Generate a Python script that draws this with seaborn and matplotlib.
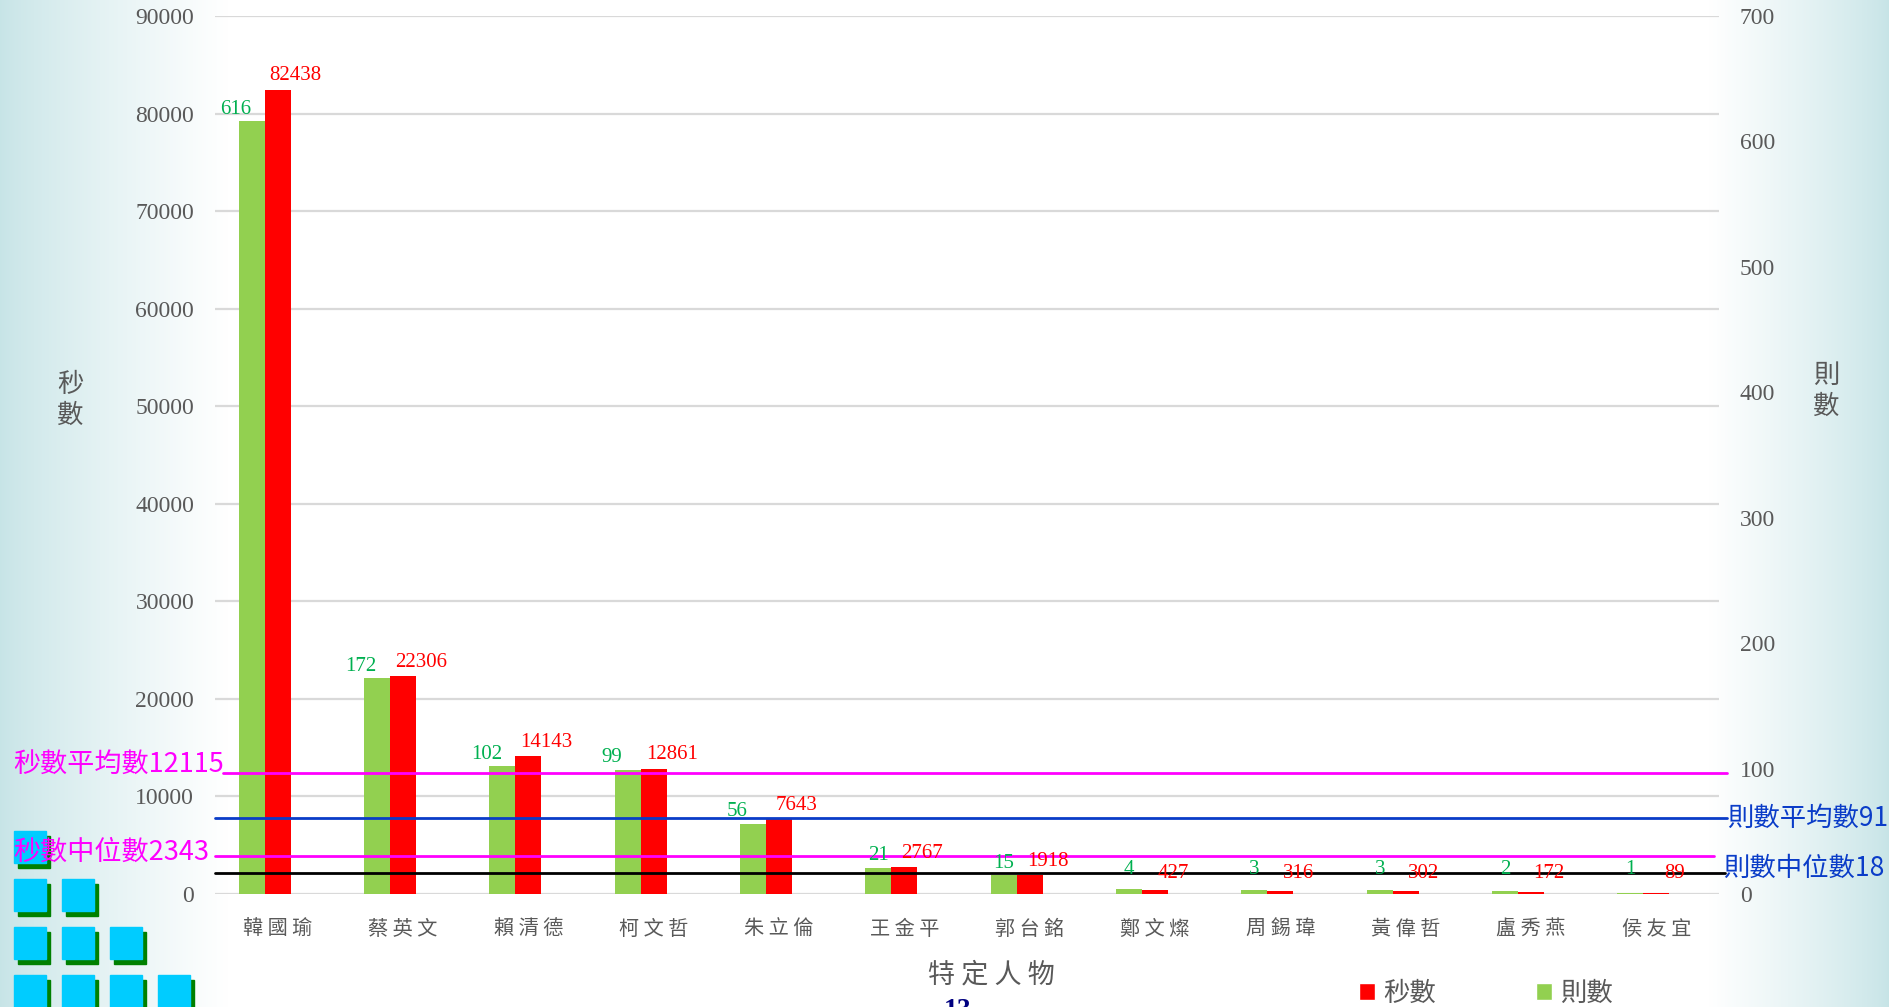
import numpy as np
import pandas as pd
import matplotlib
matplotlib.use('Agg')
import matplotlib.pyplot as plt
import matplotlib.transforms as mtransforms
from matplotlib.patches import Rectangle, Patch
import seaborn as sns

# ---- data ----
people = ['韓國瑜', '蔡英文', '賴清德', '柯文哲', '朱立倫', '王金平',
          '郭台銘', '鄭文燦', '周錫瑋', '黃偉哲', '盧秀燕', '侯友宜']
seconds = [82438, 22306, 14143, 12861, 7643, 2767, 1918, 427, 316, 302, 172, 89]
counts = [616, 172, 102, 99, 56, 21, 15, 4, 3, 3, 2, 1]
series = ['則數', '秒數', '其他']
sec_ticks = list(range(0, 90001, 10000))
cnt_ticks = list(range(0, 701, 100))

sec_mean, sec_median = 12115, 2343
cnt_mean, cnt_median = 91, 18
# levels where the hand-drawn reference lines sit (left axis units)
ref_levels = [12450, 7770, 3870, 2130]

sns.set_style('white')
plt.rcParams['font.family'] = ['Noto Sans CJK TC', 'DejaVu Sans']
plt.rcParams['axes.unicode_minus'] = False

W, H = 1889, 1007
fig = plt.figure(figsize=(W / 100, H / 100), dpi=100)

# background: teal at both sides fading to white
teal = np.array([0.78, 0.895, 0.905])
xs = np.linspace(0, 1, 1000)
w = np.clip(np.minimum(xs / 0.12, (1 - xs) / 0.095), 0, 1) ** 0.8
grad = teal[None, :] + (1 - teal[None, :]) * w[:, None]
bg = fig.add_axes([0, 0, 1, 1], zorder=-10)
bg.imshow(grad[None, :, :], aspect='auto', extent=[0, 1, 0, 1])
bg.set_axis_off()

x0, x1, y_top, y_zero = 215, 1719, 16, 894
ax = fig.add_axes([x0 / W, 1 - y_zero / H, (x1 - x0) / W, (y_zero - y_top) / H])
ax.set_facecolor('none')
ax2 = ax.twinx()

pal = {'則數': '#92D050', '秒數': '#FF0000', '其他': '#4472C4'}
df_sec = pd.DataFrame({'人物': people, '系列': '秒數', '值': seconds})
df_cnt = pd.DataFrame({'人物': people, '系列': '則數', '值': counts})

sns.barplot(data=df_sec, x='人物', y='值', hue='系列', hue_order=series,
            palette=pal, dodge=True, width=0.62, saturation=1,
            linewidth=0, legend=False, ax=ax)
sns.barplot(data=df_cnt, x='人物', y='值', hue='系列', hue_order=series,
            palette=pal, dodge=True, width=0.62, saturation=1,
            linewidth=0, legend=False, ax=ax2)

ax.set_ylim(0, 90000)
ax2.set_ylim(0, 700)
ax.set_xlim(-0.5, len(people) - 0.5)

for a in (ax, ax2):
    for s in a.spines.values():
        s.set_visible(False)
    a.set_xlabel('')
    a.set_ylabel('')

ax.yaxis.grid(True, color='#D9D9D9', lw=1.6)
ax.set_axisbelow(True)

ax.set_yticks(sec_ticks)
ax.set_yticklabels([str(t) for t in sec_ticks], family='Liberation Serif',
                   fontsize=17, color='#595959')
ax2.set_yticks(cnt_ticks)
ax2.set_yticklabels([str(t) for t in cnt_ticks], family='Liberation Serif',
                    fontsize=17, color='#595959')
ax.tick_params(axis='y', length=0, pad=15)
ax2.tick_params(axis='y', length=0, pad=15)

ax.set_xticks(range(len(people)))
ax.set_xticklabels([' '.join(p) for p in people], fontsize=14.5, color='#595959')
ax.tick_params(axis='x', length=0, pad=18)


def full_container(a):
    return [c for c in a.containers if len(c) == len(people)][0]


# ---- data labels ----
px_sec = (y_zero - y_top) / 90000
px_cnt = (y_zero - y_top) / 700
for bar, v in zip(full_container(ax), seconds):
    cx = bar.get_x() + bar.get_width() / 2
    top = bar.get_height() * px_sec
    dy = max(14, 21 - top)
    ax2.annotate(str(v), xy=(cx, bar.get_height()), xycoords=ax.transData,
                 xytext=(18, dy), textcoords='offset pixels', ha='center',
                 va='center', color='#FF0000', fontsize=15,
                 family='Liberation Serif', zorder=6)
for bar, v in zip(full_container(ax2), counts):
    cx = bar.get_x() + bar.get_width() / 2
    top = bar.get_height() * px_cnt
    dx = -16 if top > 30 else 0
    dy = max(12, 24 - top)
    ax2.annotate(str(v), xy=(cx, bar.get_height()), xycoords=ax2.transData,
                 xytext=(dx, dy), textcoords='offset pixels', ha='center',
                 va='center', color='#00B050', fontsize=15,
                 family='Liberation Serif', zorder=6)

# ---- reference lines ----
trans = mtransforms.blended_transform_factory(ax2.transAxes, ax.transData)
line_styles = [('#FF00FF', 0.005, 1.005), ('#0A3CC8', 0.0, 1.0055),
               ('#FF00FF', 0.0, 0.997), ('#000000', 0.0, 1.004)]
for lvl, (c, a0, a1) in zip(ref_levels, line_styles):
    ax2.plot([a0, a1], [lvl, lvl], transform=trans, color=c, lw=2,
             clip_on=False, zorder=5)


def ftext(px, py, s, **kw):
    return fig.text(px / W, 1 - py / H, s, **kw)


ftext(13, 764, f'秒數平均數{sec_mean}', color='#FF00FF', fontsize=19.5,
      ha='left', va='center', zorder=5)
ftext(13, 852, f'秒數中位數{sec_median}', color='#FF00FF', fontsize=19.5,
      ha='left', va='center', zorder=5)
ftext(1727, 818, f'則數平均數{cnt_mean}', color='#0A3CC8', fontsize=19,
      ha='left', va='center', zorder=5)
ftext(1723, 868, f'則數中位數{cnt_median}', color='#0A3CC8', fontsize=19,
      ha='left', va='center', zorder=5)

# axis titles
ftext(70, 400, '秒\n數', fontsize=19, color='#595959', ha='center',
      va='center', linespacing=1.2)
ftext(1826, 391, '則\n數', fontsize=19, color='#595959', ha='center',
      va='center', linespacing=1.2)
ftext(991, 975, '特 定 人 物', fontsize=19.5, color='#595959', ha='center',
      va='center')
ftext(958, 998, '13', fontsize=20, fontweight='bold', color='#000080',
      ha='center', va='top', family='Liberation Serif')

# decorative squares, bottom left
for row in range(4):
    for col in range(row + 1):
        sx, sy = 14 + 48 * col, 831 + 48 * row
        fig.add_artist(Rectangle(((sx + 4) / W, 1 - (sy + 37) / H), 32 / W, 32 / H,
                                 transform=fig.transFigure, color='#008000',
                                 zorder=1))
        fig.add_artist(Rectangle((sx / W, 1 - (sy + 32) / H), 32 / W, 32 / H,
                                 transform=fig.transFigure, color='#00CCFF',
                                 zorder=2))

handles = [Patch(facecolor='#FF0000', label='秒數'),
           Patch(facecolor='#92D050', label='則數')]
fig.legend(handles=handles, loc='center', bbox_to_anchor=(1486 / W, 1 - 993 / H),
           ncol=2, frameon=False, fontsize=19, handlelength=0.6,
           handleheight=0.6, handletextpad=0.3, columnspacing=3.8,
           labelcolor='#595959')

fig.savefig('out.png', dpi=100)
